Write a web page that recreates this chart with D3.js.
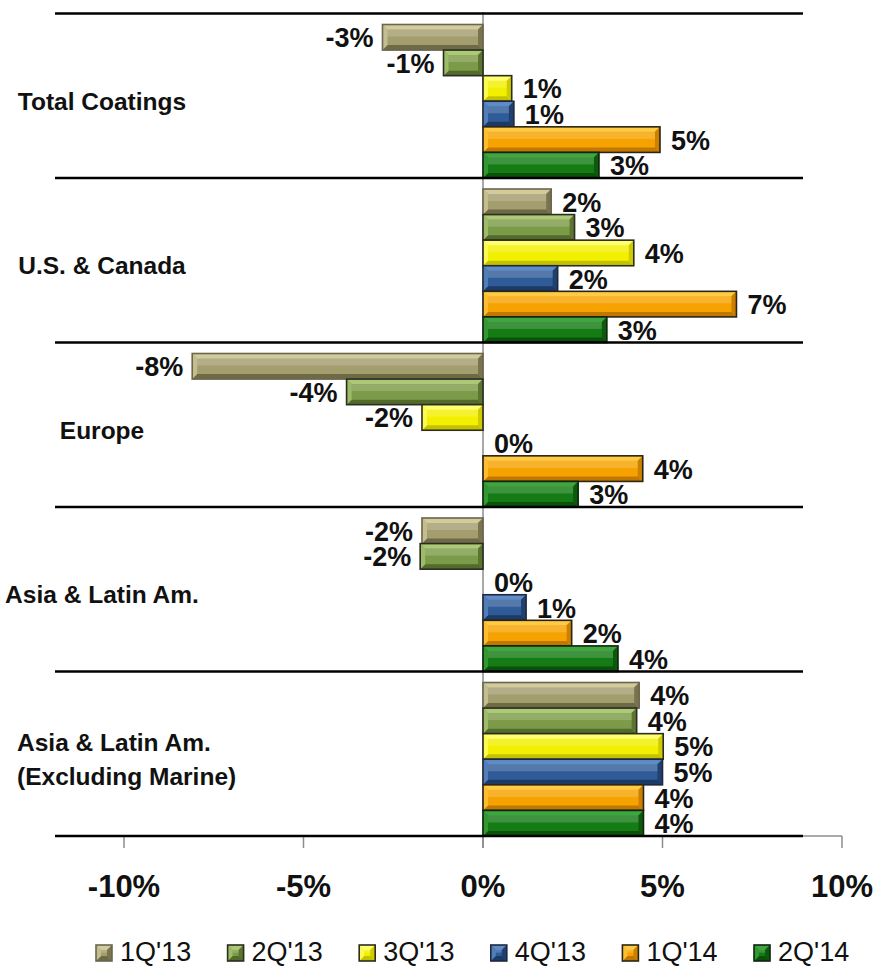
<!DOCTYPE html>
<html>
<head>
<meta charset="utf-8">
<script src="https://cdn.jsdelivr.net/npm/d3@7"></script>
<style>
  html, body { margin: 0; padding: 0; background: #fff; }
  svg { display: block; font-family: "Liberation Sans", Arial, sans-serif; }
</style>
</head>
<body>
<svg id="chart" width="877" height="970"></svg>
<script>
// ---------------- data ----------------
const categories = ["Total Coatings", "U.S. & Canada", "Europe", "Asia & Latin Am.", "Asia & Latin Am.|(Excluding Marine)"];
const seriesNames = ["1Q'13", "2Q'13", "3Q'13", "4Q'13", "1Q'14", "2Q'14"];
const q1_13 = [-2.8, 1.9, -8.1, -1.7, 4.35];
const q2_13 = [-1.1, 2.55, -3.8, -1.75, 4.28];
const q3_13 = [0.8, 4.2, -1.7, 0, 5.02];
const q4_13 = [0.86, 2.08, 0, 1.2, 5.0];
const q1_14 = [4.93, 7.06, 4.45, 2.47, 4.47];
const q2_14 = [3.23, 3.45, 2.65, 3.76, 4.47];
const tickValues = [-10, -5, 0, 5, 10];
const tickLabels = ["-10%", "-5%", "0%", "5%", "10%"];

const seriesValues = [q1_13, q2_13, q3_13, q4_13, q1_14, q2_14];
// colours: [face, light facet, dark facet, outline]
const seriesColors = [
  ["#a49d6e", "#d2cb9c", "#6f6a46", "#6a6650"],
  ["#7c9b48", "#abc977", "#526b2c", "#2c2c20"],
  ["#f2f000", "#ffff70", "#c4c200", "#2c2c20"],
  ["#2f5c98", "#5f8bc6", "#1b3a66", "#1e2a3c"],
  ["#f6a200", "#ffcb45", "#c27800", "#2c2416"],
  ["#157c15", "#3fa53f", "#0a510a", "#10240f"]
];

// ---------------- layout ----------------
const svg = d3.select("#chart");
const x = d3.scaleLinear().domain([-10, 10]).range([124, 842]);
const y = d3.scaleBand().domain(d3.range(categories.length)).range([13.5, 836]).paddingInner(0).paddingOuter(0);
const ySub = d3.scaleBand().domain(d3.range(seriesNames.length)).range([11, y.bandwidth()]).padding(0);

const defs = svg.append("defs");
const blur = defs.append("filter").attr("id", "blur").attr("x", "-5%").attr("y", "-200%").attr("width", "110%").attr("height", "500%");
blur.append("feGaussianBlur").attr("stdDeviation", 2.4);

// axis (gray) along the bottom
const axisY = 836;
svg.append("line").attr("x1", x(-10)).attr("x2", x(10)).attr("y1", axisY).attr("y2", axisY)
  .attr("stroke", "#8c8c8c").attr("stroke-width", 1.5);
svg.selectAll("line.tick").data(tickValues).enter().append("line").attr("class", "tick")
  .attr("x1", d => x(d)).attr("x2", d => x(d)).attr("y1", axisY).attr("y2", axisY + 12)
  .attr("stroke", "#8c8c8c").attr("stroke-width", 1.5);
svg.selectAll("text.tickl").data(tickValues).enter().append("text").attr("class", "tickl")
  .attr("x", d => x(d)).attr("y", 897).attr("text-anchor", "middle")
  .attr("font-size", 31).attr("font-weight", "bold").attr("fill", "#111")
  .text((d, i) => tickLabels[i]);

// zero line
svg.append("line").attr("x1", x(0)).attr("x2", x(0)).attr("y1", 12).attr("y2", axisY + 12)
  .attr("stroke", "#8c8c8c").attr("stroke-width", 1.5);

// separators (black lines with soft shadow)
const sepYs = categories.map((c, i) => y(i)).concat([y.range()[1]]);
svg.selectAll("line.sepShadow").data(sepYs).enter().append("line").attr("class", "sepShadow")
  .attr("x1", 58).attr("x2", 800).attr("y1", d => d + 4).attr("y2", d => d + 4)
  .attr("stroke", "#b8b8b8").attr("stroke-width", 6).attr("filter", "url(#blur)");

// bars
const bevel = 5;
function drawBar(g, x0, x1, y0, y1, col) {
  const w = x1 - x0, h = y1 - y0;
  if (w <= 0) return;
  const b = Math.min(bevel, w / 2, h / 2);
  g.append("rect").attr("x", x0).attr("y", y0).attr("width", w).attr("height", h).attr("fill", col[0]);
  g.append("path").attr("d", `M${x0},${y0}L${x1},${y0}L${x1 - b},${y0 + b}L${x0 + b},${y0 + b}Z`).attr("fill", col[1]);
  g.append("path").attr("d", `M${x0},${y1}L${x1},${y1}L${x1 - b},${y1 - b}L${x0 + b},${y1 - b}Z`).attr("fill", col[2]);
  g.append("path").attr("d", `M${x0},${y0}L${x0 + b},${y0 + b}L${x0 + b},${y1 - b}L${x0},${y1}Z`).attr("fill", col[1]).attr("opacity", 0.7);
  g.append("path").attr("d", `M${x1},${y0}L${x1 - b},${y0 + b}L${x1 - b},${y1 - b}L${x1},${y1}Z`).attr("fill", col[2]).attr("opacity", 0.8);
  g.append("rect").attr("x", x0 + b).attr("y", y0 + b).attr("width", Math.max(0, w - 2 * b)).attr("height", Math.max(0, (h - 2 * b) * 0.45))
    .attr("fill", "#fff").attr("opacity", 0.18);
  g.append("rect").attr("x", x0).attr("y", y0).attr("width", w).attr("height", h)
    .attr("fill", "none").attr("stroke", col[3]).attr("stroke-width", 1.6);
}

const barsG = svg.append("g");
categories.forEach((cat, ci) => {
  seriesValues.forEach((vals, si) => {
    const v = vals[ci];
    const y0 = y(ci) + ySub(si);
    const y1 = y0 + ySub.bandwidth();
    const g = barsG.append("g");
    drawBar(g, Math.min(x(0), x(v)), Math.max(x(0), x(v)), y0, y1, seriesColors[si]);
  });
});

// separators on top
svg.selectAll("line.sep").data(sepYs).enter().append("line").attr("class", "sep")
  .attr("x1", 55).attr("x2", 803).attr("y1", d => d).attr("y2", d => d)
  .attr("stroke", "#000").attr("stroke-width", 2.6);

// data labels
categories.forEach((cat, ci) => {
  seriesValues.forEach((vals, si) => {
    const v = vals[ci];
    const yc = y(ci) + ySub(si) + ySub.bandwidth() / 2;
    const neg = v < 0;
    svg.append("text")
      .attr("x", neg ? x(v) - 9 : x(v) + 11)
      .attr("y", yc + 10)
      .attr("text-anchor", neg ? "end" : "start")
      .attr("font-size", 27).attr("font-weight", "bold").attr("fill", "#111")
      .text(Math.round(v) + "%");
  });
});

// category labels
categories.forEach((cat, ci) => {
  const lines = cat.split("|");
  const yc = y(ci) + y.bandwidth() / 2 + 6;
  const t = svg.append("text").attr("font-size", 24.5).attr("font-weight", "bold").attr("fill", "#111");
  if (lines.length === 1) {
    t.attr("x", 102).attr("y", yc + 8).attr("text-anchor", "middle").text(lines[0]);
  } else {
    lines.forEach((ln, li) => {
      t.append("tspan").attr("x", 17).attr("y", yc + 8 + (li - (lines.length - 1) / 2) * 34).text(ln);
    });
  }
});

// legend
const legX = d3.scalePoint().domain(seriesNames).range([96, 754]);
const leg = svg.append("g");
seriesNames.forEach((name, si) => {
  const g = leg.append("g");
  drawBar(g, legX(name), legX(name) + 16, 945, 961, seriesColors[si]);
  leg.append("text").attr("x", legX(name) + 24).attr("y", 961).attr("font-size", 27).attr("fill", "#111").text(name);
});
</script>
</body>
</html>
